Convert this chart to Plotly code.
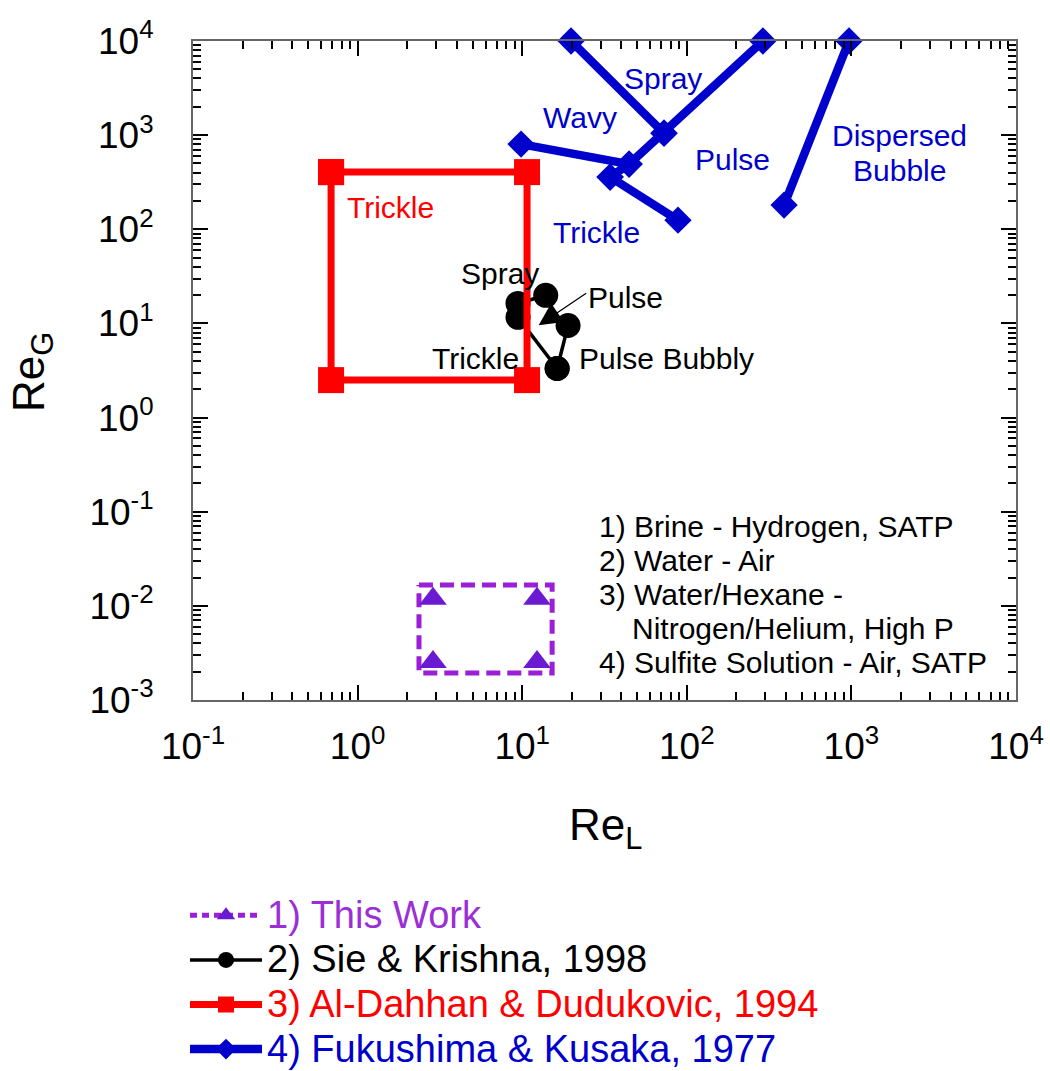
import plotly.graph_objects as go

# ---------------- data ----------------
# 1) This Work (dashed box and triangle points)
this_box_x = [2.36, 15.2, 15.2, 2.36, 2.36]
this_box_y = [0.0167, 0.0167, 0.00194, 0.00194, 0.0167]
this_x = [2.87, 12.3, 2.87, 12.3]
this_y = [0.0119, 0.0119, 0.00254, 0.00254]

# 2) Sie & Krishna, 1998 (boundary segments)
sie_x = [9.43, 13.9, None, 9.43, 16.3, None, 19.0, 16.3]
sie_y = [16.3, 19.9, None, 11.6, 3.32, None, 9.5, 3.32]

# 3) Al-Dahhan & Dudukovic, 1994 (trickle region)
ald_x = [0.69, 10.7, 10.7, 0.69, 0.69]
ald_y = [405, 405, 2.5, 2.5, 405]

# 4) Fukushima & Kusaka, 1977 (boundary segments)
fk_x = [19.8, 72.7, None, 290, 72.7, 44.6, 34.2, None, 9.84, 44.6, None, 34.2, 88.4, None, 967, 390]
fk_y = [10000, 1050, None, 10000, 1050, 493, 359, None, 804, 493, None, 359, 125, None, 10000, 181]

x_tickvals = [0.1, 1, 10, 100, 1000, 10000]
x_ticktext = ["10<sup>-1</sup>", "10<sup>0</sup>", "10<sup>1</sup>", "10<sup>2</sup>", "10<sup>3</sup>", "10<sup>4</sup>"]
y_tickvals = [0.001, 0.01, 0.1, 1, 10, 100, 1000, 10000]
y_ticktext = ["10<sup>-3</sup>", "10<sup>-2</sup>", "10<sup>-1</sup>", "10<sup>0</sup>",
              "10<sup>1</sup>", "10<sup>2</sup>", "10<sup>3</sup>", "10<sup>4</sup>"]

legend_names = ["1) This Work", "2) Sie & Krishna, 1998",
                "3) Al-Dahhan & Dudukovic, 1994", "4) Fukushima & Kusaka, 1977"]

PURPLE_LINE = "#9b1fd6"
PURPLE_MARK = "#6a1bd1"
PURPLE_TEXT = "#9a2fd6"
BLACK = "#000000"
RED = "#ff0000"
BLUE = "#0000cc"
FONT = "Liberation Sans, Arial, sans-serif"


def lname(text, color):
    return "<span style='color:%s;font-size:38px'>%s</span>" % (color, text)


fig = go.Figure()

# This work: dashed box + triangles
fig.add_trace(go.Scatter(x=this_box_x, y=this_box_y, mode="lines", cliponaxis=False,
                         line=dict(color=PURPLE_LINE, width=5, dash="14px,7px"),
                         showlegend=False, hoverinfo="skip"))
fig.add_trace(go.Scatter(x=this_x, y=this_y, mode="markers", cliponaxis=False,
                         marker=dict(symbol="triangle-up", size=24, color=PURPLE_MARK),
                         showlegend=False))
fig.add_trace(go.Scatter(x=[None], y=[None], mode="lines+markers",
                         name=lname(legend_names[0], PURPLE_TEXT),
                         line=dict(color=PURPLE_LINE, width=5, dash="7px,5px"),
                         marker=dict(symbol="triangle-up", size=20, color=PURPLE_MARK)))

# Sie & Krishna
fig.add_trace(go.Scatter(x=sie_x, y=sie_y, mode="lines+markers", cliponaxis=False,
                         name=lname(legend_names[1], BLACK),
                         line=dict(color=BLACK, width=3.5),
                         marker=dict(symbol="circle", size=25, color=BLACK)))

# Al-Dahhan & Dudukovic
fig.add_trace(go.Scatter(x=ald_x, y=ald_y, mode="lines+markers", cliponaxis=False,
                         name=lname(legend_names[2], RED),
                         line=dict(color=RED, width=7),
                         marker=dict(symbol="square", size=26, color=RED)))

# Fukushima & Kusaka
fig.add_trace(go.Scatter(x=fk_x, y=fk_y, mode="lines+markers", cliponaxis=False,
                         name=lname(legend_names[3], BLUE),
                         line=dict(color=BLUE, width=8.5),
                         marker=dict(symbol="diamond", size=21, color=BLUE)))

L, R, T, B = 193, 34, 41, 371
PW = 1050 - L - R
PH = 1071 - T - B


def px(xp):
    return (xp - L) / PW


def py(yp):
    return (1071 - B - yp) / PH


annotations = []


def txt(text, x, y, color, size=30, xanchor="center"):
    annotations.append(dict(text=text, x=px(x), y=py(y), xref="paper", yref="paper",
                            showarrow=False, xanchor=xanchor, yanchor="middle",
                            font=dict(color=color, size=size, family=FONT)))


# Red label
txt("Trickle", 390, 207, RED)
# Blue labels
txt("Spray", 663, 78, BLUE)
txt("Wavy", 580, 118, BLUE)
txt("Pulse", 732, 159, BLUE)
txt("Trickle", 596, 232, BLUE)
txt("Dispersed", 899, 136, BLUE)
txt("Bubble", 899, 170, BLUE)
# Black labels
txt("Spray", 500, 273, BLACK)
txt("Pulse", 625, 297, BLACK)
txt("Trickle", 475, 358, BLACK)
txt("Pulse Bubbly", 666, 358, BLACK)
# System notes
txt("1) Brine - Hydrogen, SATP", 597, 526, BLACK, xanchor="left")
txt("2) Water - Air", 597, 560, BLACK, xanchor="left")
txt("3) Water/Hexane -", 597, 594, BLACK, xanchor="left")
txt("Nitrogen/Helium, High P", 630, 628, BLACK, xanchor="left")
txt("4) Sulfite Solution - Air, SATP", 597, 662, BLACK, xanchor="left")

# Arrow pointing at pulse region
annotations.append(dict(x=1.10, y=0.98, xref="x", yref="y", text="", showarrow=True,
                        ax=49, ay=-33, arrowhead=2, arrowsize=3.5, arrowwidth=1.3,
                        arrowcolor=BLACK))

# Axis titles
annotations.append(dict(text="Re<sub>L</sub>", x=px(605), y=py(828), xref="paper", yref="paper",
                        showarrow=False, xanchor="center", yanchor="middle",
                        font=dict(size=44, color=BLACK, family=FONT)))
annotations.append(dict(text="Re<sub>G</sub>", x=px(32), y=py(372), xref="paper", yref="paper",
                        showarrow=False, xanchor="center", yanchor="middle", textangle=-90,
                        font=dict(size=44, color=BLACK, family=FONT)))

minor_vals = [k * 10.0 ** e for e in range(-3, 4) for k in range(2, 10)]

axis_common = dict(type="log", showline=True, linecolor="#666666", linewidth=2,
                   mirror="allticks", ticks="inside", ticklen=15, tickwidth=2,
                   tickcolor="black", showgrid=False, zeroline=False,
                   tickfont=dict(size=37, color="black", family=FONT),
                   minor=dict(ticks="inside", ticklen=8, tickwidth=1.5, tickcolor="black",
                              tickvals=minor_vals, showgrid=False))

fig.update_xaxes(range=[-1, 4], tickvals=x_tickvals, ticktext=x_ticktext,
                 ticklabelstandoff=13, **axis_common)
fig.update_yaxes(range=[-3, 4], tickvals=y_tickvals, ticktext=y_ticktext,
                 ticklabelstandoff=30, **axis_common)

fig.update_layout(
    width=1050, height=1071,
    margin=dict(l=L, r=R, t=T, b=B, autoexpand=False),
    plot_bgcolor="white", paper_bgcolor="white",
    font=dict(family=FONT, color="black"),
    annotations=annotations,
    legend=dict(x=px(185), y=py(888), xanchor="left", yanchor="top",
                font=dict(size=32, family=FONT), bgcolor="rgba(0,0,0,0)",
                itemwidth=72, tracegroupgap=0),
)

fig.write_html("out.html")
